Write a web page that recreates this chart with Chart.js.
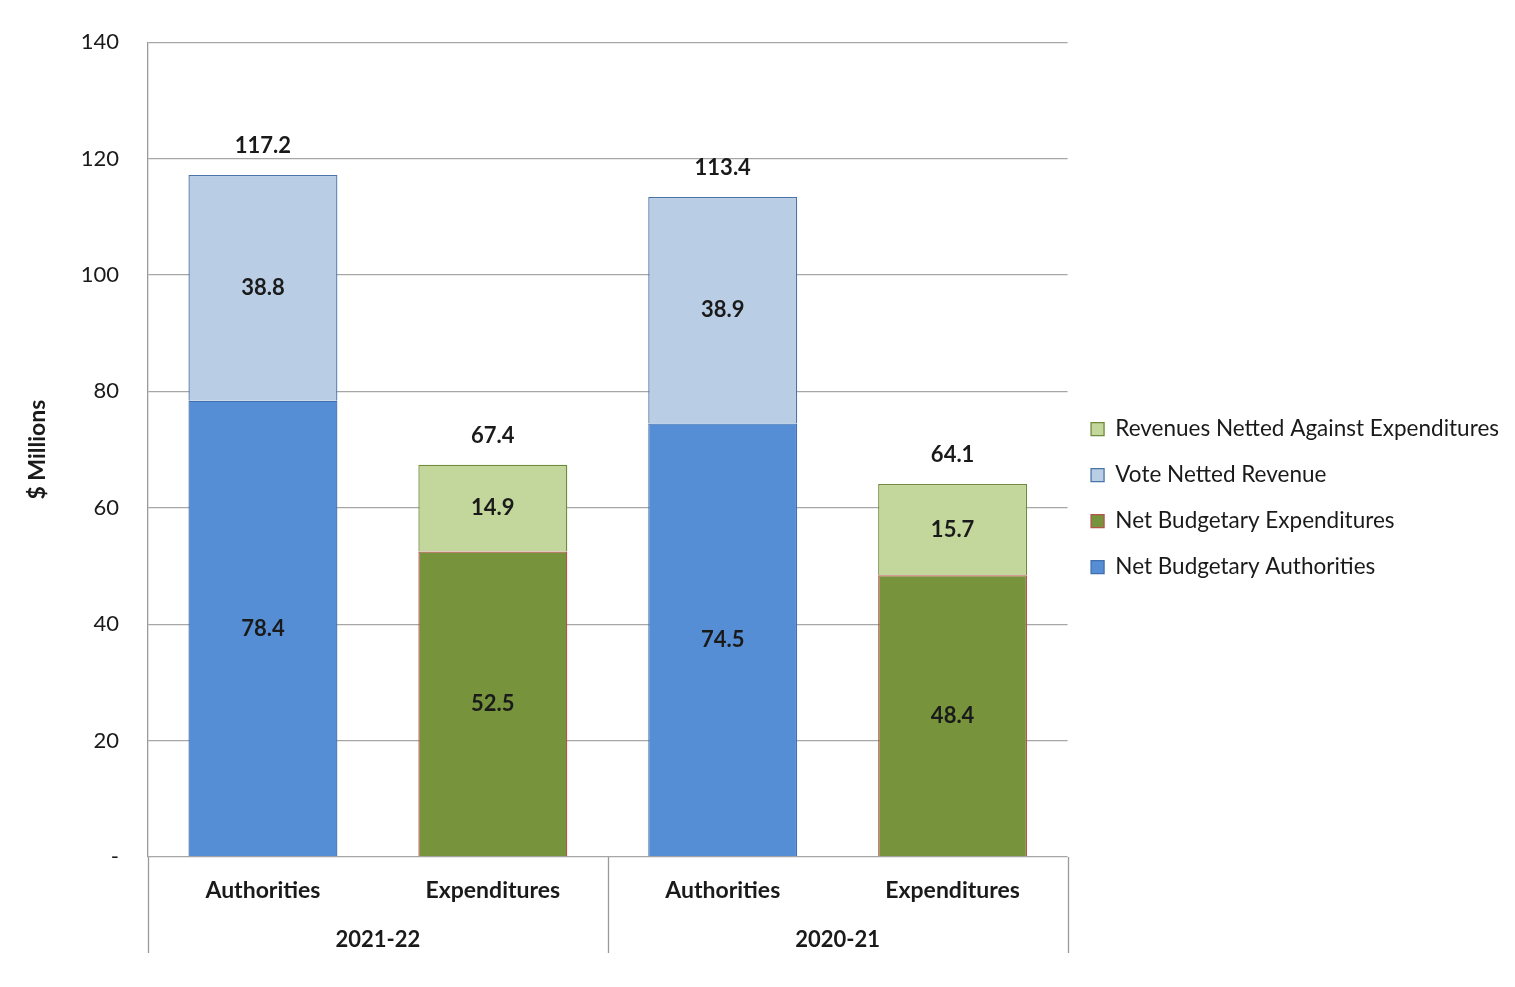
<!DOCTYPE html>
<html>
<head>
<meta charset="utf-8">
<script src="https://cdn.jsdelivr.net/npm/chart.js@4.4.1/dist/chart.umd.min.js"></script>
<style>
html,body{margin:0;padding:0;background:#fff;}
#wrap{width:1515px;height:987px;position:relative;}
</style>
</head>
<body>
<div id="wrap"><canvas id="c"></canvas></div>
<script>
const categories = ['Authorities', 'Expenditures', 'Authorities', 'Expenditures'];
const groups = ['2021-22', '2020-21'];
const netBudgetaryAuthorities = [78.4, null, 74.5, null];
const netBudgetaryExpenditures = [null, 52.5, null, 48.4];
const voteNettedRevenue = [38.8, null, 38.9, null];
const revenuesNettedAgainstExp = [null, 14.9, null, 15.7];
const yTicks = [0, 20, 40, 60, 80, 100, 120, 140];

const FONT = 'Lato, "Open Sans", sans-serif';
const TEXT = '#1a1a1a';

const totals = categories.map((_, i) =>
  [netBudgetaryAuthorities, netBudgetaryExpenditures, voteNettedRevenue, revenuesNettedAgainstExp]
    .reduce((s, a) => s + (a[i] || 0), 0));

const labelsPlugin = {
  id: 'labels',
  afterDatasetsDraw(chart) {
    const ctx = chart.ctx;
    ctx.save();
    ctx.font = 'bold 22px ' + FONT;
    ctx.fillStyle = TEXT;
    ctx.textAlign = 'center';
    ctx.textBaseline = 'middle';
    chart.data.datasets.forEach((ds, di) => {
      const meta = chart.getDatasetMeta(di);
      meta.data.forEach((el, i) => {
        const v = ds.data[i];
        if (v === null || v === undefined) return;
        ctx.fillText(v.toFixed(1), el.x, (el.y + el.base) / 2);
      });
    });
    const ys = chart.scales.y, xs = chart.scales.x;
    totals.forEach((t, i) => {
      ctx.fillText(t.toFixed(1), xs.getPixelForValue(i), ys.getPixelForValue(t) - 29);
    });
    ctx.restore();
  }
};

const separatorPlugin = {
  id: 'separators',
  afterDraw(chart) {
    const ctx = chart.ctx;
    const xs = chart.scales.x, x2 = chart.scales.x2;
    const ca = chart.chartArea;
    const xsPos = [ca.left, xs.getPixelForValue(1.5), ca.right];
    ctx.save();
    ctx.strokeStyle = '#9a9a9a';
    ctx.lineWidth = 1.3;
    xsPos.forEach(px => {
      ctx.beginPath();
      ctx.moveTo(Math.round(px) + 0.5, ca.bottom);
      ctx.lineTo(Math.round(px) + 0.5, x2.bottom);
      ctx.stroke();
    });
    ctx.restore();
  }
};

new Chart(document.getElementById('c'), {
  type: 'bar',
  data: {
    labels: categories,
    datasets: [
      { label: 'Net Budgetary Authorities', data: netBudgetaryAuthorities,
        backgroundColor: '#558ED5', borderColor: '#3F6FAF', borderWidth: 1.3 },
      { label: 'Net Budgetary Expenditures', data: netBudgetaryExpenditures,
        backgroundColor: '#77933C', borderColor: '#B5534A', borderWidth: 1.3 },
      { label: 'Vote Netted Revenue', data: voteNettedRevenue,
        backgroundColor: '#B9CDE5', borderColor: '#4A74A8', borderWidth: 1.3 },
      { label: 'Revenues Netted Against Expenditures', data: revenuesNettedAgainstExp,
        backgroundColor: '#C3D69B', borderColor: '#6E8A3A', borderWidth: 1.3 }
    ]
  },
  options: {
    responsive: true,
    maintainAspectRatio: false,
    animation: false,
    devicePixelRatio: 1,
    layout: { padding: { top: 30, right: 6, bottom: 34, left: 0 } },
    datasets: { bar: { barPercentage: 0.648, categoryPercentage: 1.0, skipNull: false } },
    plugins: {
      legend: {
        position: 'right',
        reverse: true,
        maxWidth: 520,
        title: { display: true, text: ' ', font: { size: 1 }, padding: { top: 6, bottom: 6 } },
        labels: {
          font: { family: FONT, size: 22.5 },
          color: TEXT,
          boxWidth: 13,
          boxHeight: 13,
          padding: 23.5,
          useBorderRadius: false
        }
      },
      tooltip: { enabled: false },
      title: { display: false }
    },
    scales: {
      x: {
        stacked: true,
        offset: true,
        grid: { display: false },
        border: { display: false },
        ticks: { font: { family: FONT, size: 23, weight: 'bold' }, color: TEXT, padding: 12 },
        afterFit(s) { s.height = 48; }
      },
      x2: {
        type: 'category',
        position: 'bottom',
        labels: groups,
        offset: true,
        grid: { display: false },
        border: { display: false },
        ticks: { font: { family: FONT, size: 22, weight: 'bold' }, color: TEXT, padding: 14 },
        afterFit(s) { s.height = 48; }
      },
      y: {
        stacked: true,
        min: 0,
        max: 140,
        afterBuildTicks(s) { s.ticks = yTicks.map(v => ({ value: v })); },
        grid: { color: '#A6A6A6', lineWidth: 1.3, drawTicks: false },
        border: { display: true, color: '#9a9a9a', width: 1.3 },
        ticks: {
          font: { family: FONT, size: 22 },
          color: TEXT,
          padding: 29,
          callback: v => v === 0 ? '-' : v
        },
        title: {
          display: true,
          text: '$ Millions',
          font: { family: FONT, size: 23, weight: 'bold' },
          color: TEXT,
          padding: { top: 24, bottom: 0 }
        },
        afterFit(s) { s.width = 148; }
      }
    }
  },
  plugins: [labelsPlugin, separatorPlugin]
});
</script>
</body>
</html>
